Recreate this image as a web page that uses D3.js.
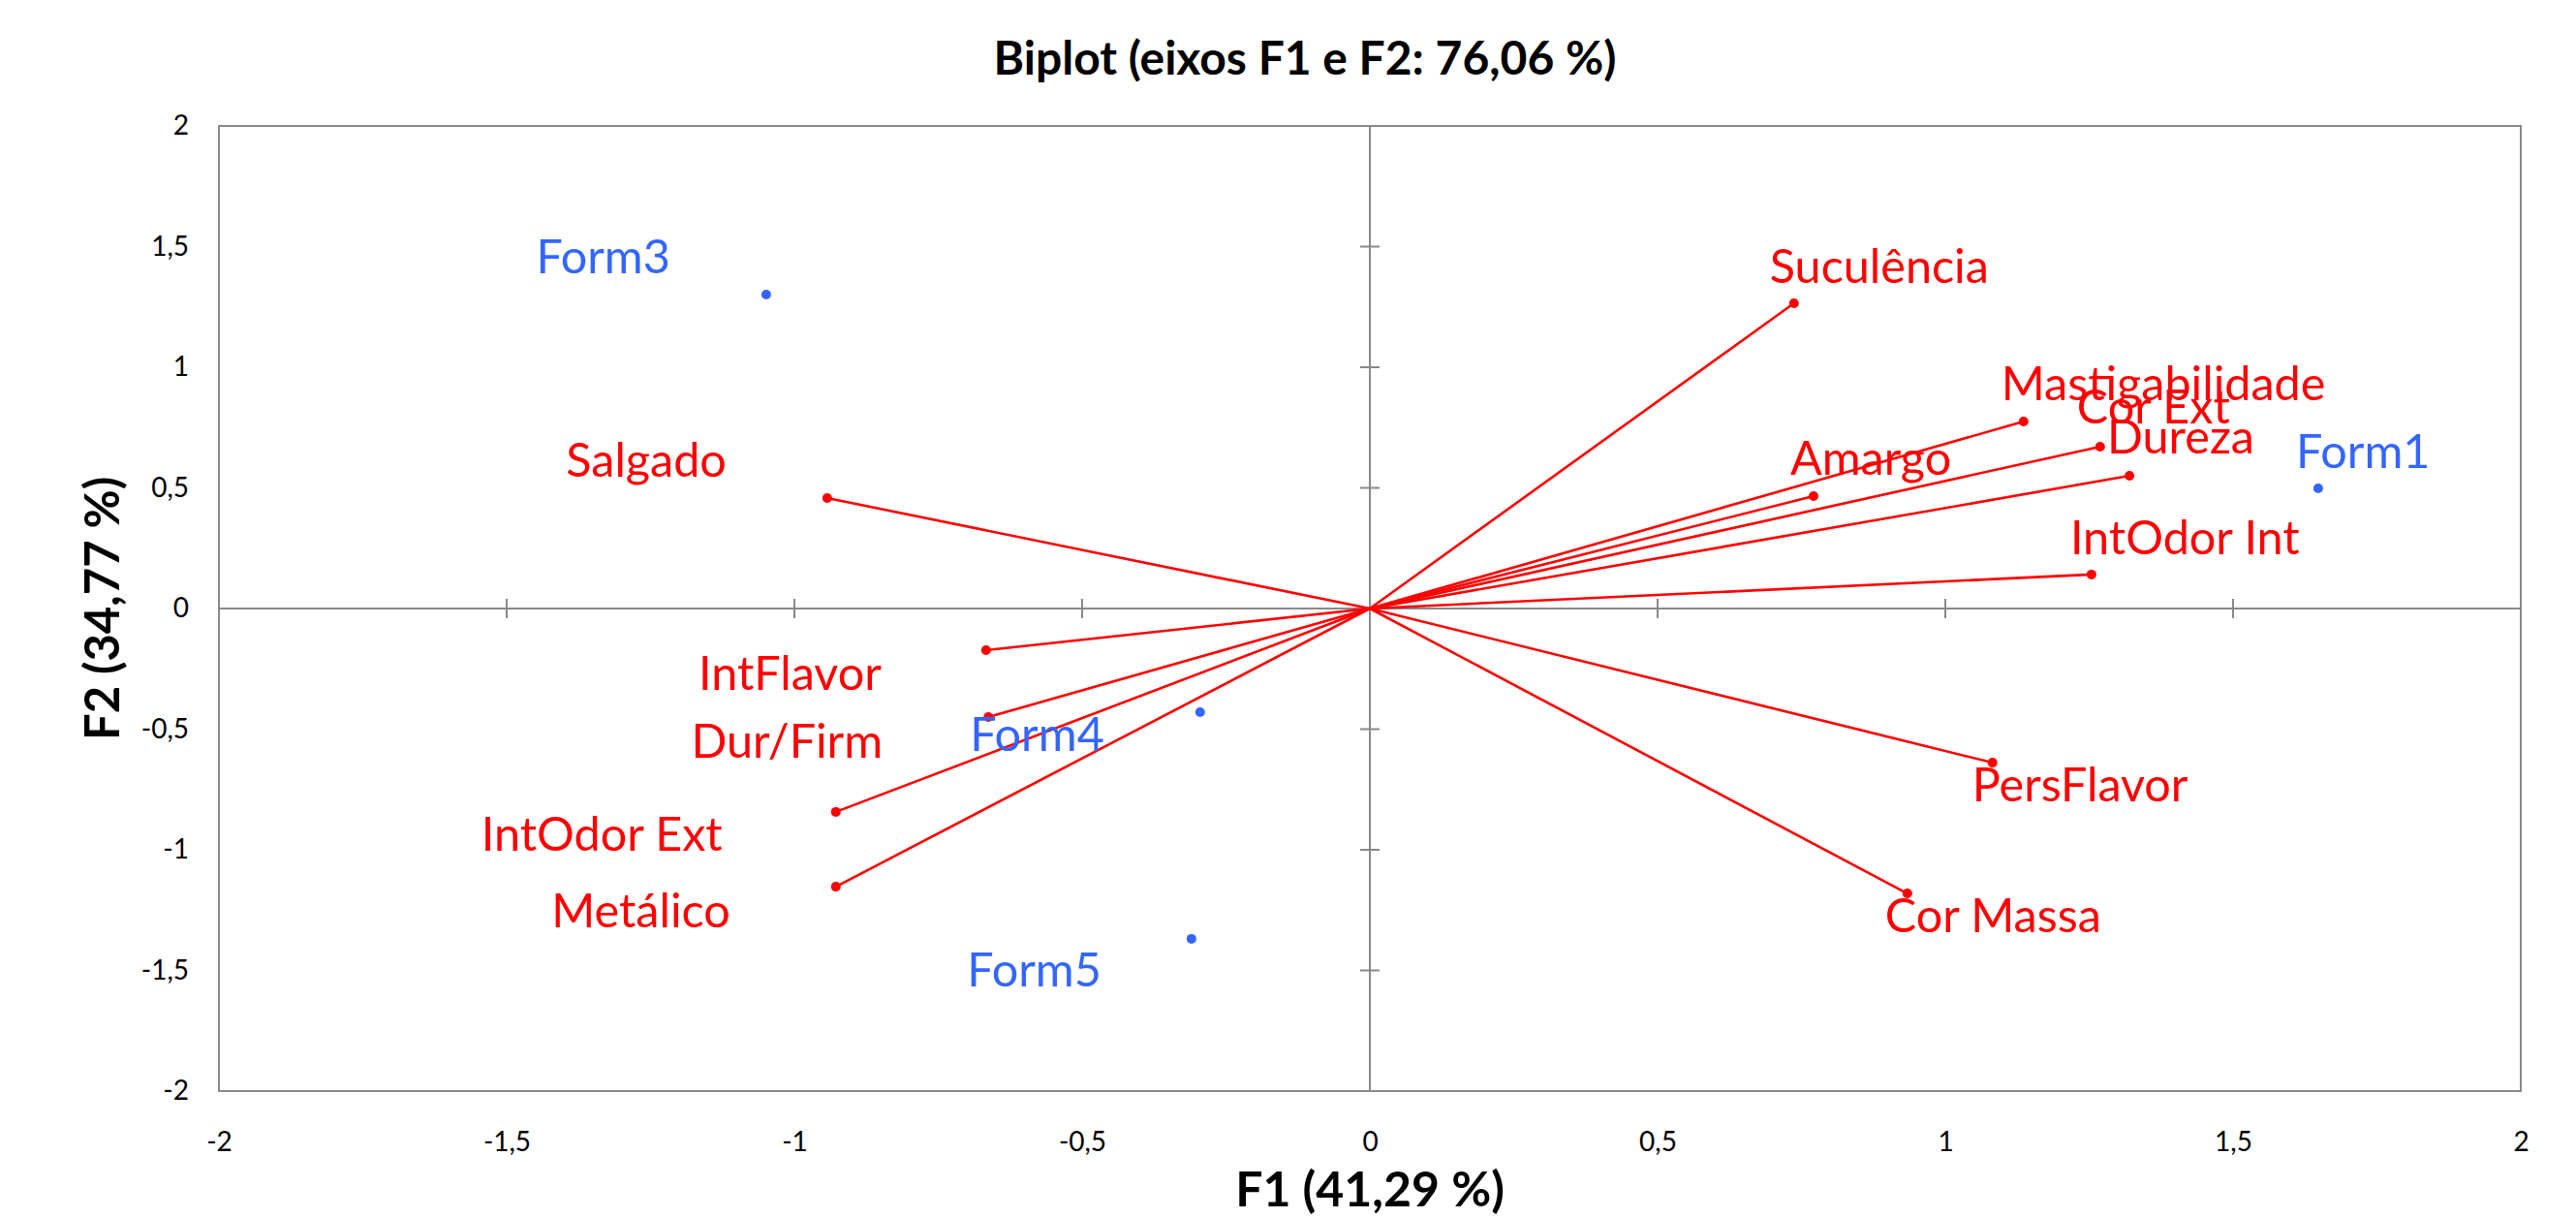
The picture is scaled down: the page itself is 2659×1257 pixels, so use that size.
<!DOCTYPE html>
<html>
<head>
<meta charset="utf-8">
<script src="https://cdn.jsdelivr.net/npm/d3@7"></script>
<style>
  body { margin: 0; background: #fff; }
  svg text { font-family: Lato, "Open Sans", sans-serif; }
</style>
</head>
<body>
<div id="chart"></div>
<script>
// Variables (arrows)
const varNames = ["Suculência","Mastigabilidade","Cor Ext","Dureza","Amargo","IntOdor Int",
  "PersFlavor","Cor Massa","Salgado","IntFlavor","Dur/Firm","IntOdor Ext","Metálico"];
const varF1 = [0.737, 1.136, 1.269, 1.320, 0.771, 1.254, 1.082, 0.934, -0.943, -0.667, -0.663, -0.928, -0.928];
const varF2 = [1.265, 0.775, 0.671, 0.550, 0.466, 0.141, -0.639, -1.181, 0.458, -0.173, -0.450, -0.843, -1.153];

// Observations
const obsNames = ["Form1","Form3","Form4","Form5"];
const obsF1 = [1.648, -1.049, -0.295, -0.310];
const obsF2 = [0.498, 1.301, -0.430, -1.369];

const tickValues = [-2,-1.5,-1,-0.5,0,0.5,1,1.5,2];
const title = "Biplot (eixos F1 e F2: 76,06 %)";
const xTitle = "F1 (41,29 %)";
const yTitle = "F2 (34,77 %)";

// label placement (pixel offsets from the point), as placed in the original
const labelPlace = {
  "Suculência":[-25,-21,"start"], "Mastigabilidade":[-23,-22,"start"], "Cor Ext":[-24,-24,"start"],
  "Dureza":[-23,-23,"start"], "Amargo":[-24,-22,"start"], "IntOdor Int":[-22,-21,"start"],
  "PersFlavor":[-21,40,"start"], "Cor Massa":[-23,40,"start"], "Salgado":[-104,-22,"end"],
  "IntFlavor":[-108,41,"end"], "Dur/Firm":[-109,42,"end"], "IntOdor Ext":[-117,40,"end"],
  "Metálico":[-109,42,"end"], "Form1":[-23,-21,"start"], "Form3":[-99,-22,"end"],
  "Form4":[-99,40,"end"], "Form5":[-93,49,"end"]
};

const W = 2659, H = 1257;
const box = {left:226, right:2602, top:130, bottom:1126};
const RED = "#ff0000", BLUE = "#3366ff", GREY = "#898989";

const svg = d3.select("#chart").append("svg").attr("width",W).attr("height",H);
svg.append("rect").attr("width",W).attr("height",H).attr("fill","#fff");

const x = d3.scaleLinear().domain([-2,2]).range([box.left,box.right]);
const y = d3.scaleLinear().domain([-2,2]).range([box.bottom,box.top]);

const loc = d3.formatLocale({decimal:",", thousands:".", grouping:[3], currency:["",""], minus:"-"});
const fmt = loc.format("~g");

// frame
svg.append("rect")
  .attr("x",box.left).attr("y",box.top)
  .attr("width",box.right-box.left).attr("height",box.bottom-box.top)
  .attr("fill","none").attr("stroke",GREY).attr("stroke-width",2);

// tick labels on frame edges
const xAxis = svg.append("g").attr("transform",`translate(0,${box.bottom})`)
  .call(d3.axisBottom(x).tickValues(tickValues).tickSize(0).tickPadding(42).tickFormat(fmt));
const yAxis = svg.append("g").attr("transform",`translate(${box.left},0)`)
  .call(d3.axisLeft(y).tickValues(tickValues).tickSize(0).tickPadding(31).tickFormat(fmt));
[xAxis,yAxis].forEach(a=>{
  a.select(".domain").remove();
  a.selectAll("text").attr("font-size",28).attr("fill","#000")
    .style("font-family","Lato, sans-serif");
});

// centre axes with crossing ticks
const cross = svg.append("g").attr("stroke",GREY).attr("stroke-width",2);
cross.append("line").attr("x1",box.left).attr("x2",box.right).attr("y1",y(0)).attr("y2",y(0));
cross.append("line").attr("y1",box.top).attr("y2",box.bottom).attr("x1",x(0)).attr("x2",x(0));
cross.selectAll(".tx").data(tickValues.slice(1,-1)).join("line")
  .attr("x1",d=>x(d)).attr("x2",d=>x(d)).attr("y1",y(0)-10).attr("y2",y(0)+10);
cross.selectAll(".ty").data(tickValues.slice(1,-1)).join("line")
  .attr("y1",d=>y(d)).attr("y2",d=>y(d)).attr("x1",x(0)-10).attr("x2",x(0)+10);

// variable vectors
const vars = varNames.map((n,i)=>({name:n, f1:varF1[i], f2:varF2[i]}));
const obs = obsNames.map((n,i)=>({name:n, f1:obsF1[i], f2:obsF2[i]}));

svg.append("g").selectAll("line").data(vars).join("line")
  .attr("x1",x(0)).attr("y1",y(0))
  .attr("x2",d=>x(d.f1)).attr("y2",d=>y(d.f2))
  .attr("stroke",RED).attr("stroke-width",2.6);
svg.append("g").selectAll("circle").data(vars).join("circle")
  .attr("cx",d=>x(d.f1)).attr("cy",d=>y(d.f2)).attr("r",5).attr("fill",RED);

svg.append("g").selectAll("circle").data(obs).join("circle")
  .attr("cx",d=>x(d.f1)).attr("cy",d=>y(d.f2)).attr("r",5).attr("fill",BLUE);

function labels(data,color){
  svg.append("g").selectAll("text").data(data).join("text")
    .attr("x",d=>x(d.f1)+labelPlace[d.name][0])
    .attr("y",d=>y(d.f2)+labelPlace[d.name][1])
    .attr("text-anchor",d=>labelPlace[d.name][2])
    .attr("font-size",48.5).attr("fill",color)
    .text(d=>d.name);
}
labels(vars,RED);
labels(obs,BLUE);

// titles
svg.append("text").attr("x",1347).attr("y",77).attr("text-anchor","middle")
  .attr("font-size",48).attr("font-weight","bold").text(title);
svg.append("text").attr("x",x(0)).attr("y",1245).attr("text-anchor","middle")
  .attr("font-size",50).attr("font-weight","bold").text(xTitle);
svg.append("text").attr("transform",`translate(123,${y(0)}) rotate(-90)`).attr("text-anchor","middle")
  .attr("font-size",49).attr("font-weight","bold").text(yTitle);
</script>
</body>
</html>
